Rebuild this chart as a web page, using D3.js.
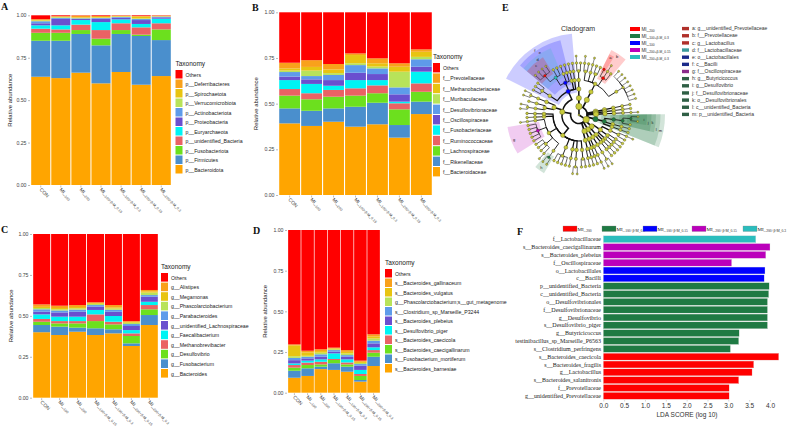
<!DOCTYPE html>
<html>
<head>
<meta charset="utf-8">
<script src="https://cdn.jsdelivr.net/npm/d3@7"></script>
<style>
  body { margin: 0; background: #fff; }
  svg { display: block; font-family: "Liberation Sans", Arial, sans-serif; }
</style>
</head>
<body>
<svg id="fig" width="791" height="432"></svg>
<script>
// ---- data ----
const groups = ["CON", "MI_100", "MI_200", "MI_100+β-M_0.15", "MI_100+β-M_0.3", "MI_200+β-M_0.15", "MI_200+β-M_0.3"];

// stacking order bottom -> top, "Others" is the remainder up to 1
const phylumTaxa = ["p__Bacteroidota", "p__Firmicutes", "p__Fusobacteriota", "p__unidentified_Bacteria", "p__Euryarchaeota",
  "p__Proteobacteria", "p__Actinobacteriota", "p__Verrucomicrobiota", "p__Spirochaetota", "p__Deferribacteres"];
const phylumValues = [
  [0.638, 0.212, 0.047, 0.024, 0.020, 0.012, 0.012, 0.004, 0.004, 0.004],
  [0.630, 0.220, 0.047, 0.020, 0.024, 0.038, 0.006, 0.004, 0.003, 0.003],
  [0.662, 0.228, 0.023, 0.032, 0.027, 0.006, 0.004, 0.003, 0.003, 0.010],
  [0.599, 0.224, 0.039, 0.051, 0.047, 0.020, 0.004, 0.003, 0.003, 0.006],
  [0.666, 0.224, 0.023, 0.040, 0.023, 0.010, 0.004, 0.003, 0.003, 0.002],
  [0.591, 0.287, 0.008, 0.043, 0.020, 0.023, 0.006, 0.004, 0.010, 0.004],
  [0.642, 0.212, 0.063, 0.036, 0.027, 0.008, 0.004, 0.002, 0.002, 0.002]
];

const familyTaxa = ["f__Bacteroidaceae", "f__Rikenellaceae", "f__Lachnospiraceae", "f__Ruminococcaceae", "f__Fusobacteriaceae",
  "f__Oscillospiraceae", "f__Desulfovibrionaceae", "f__Muribaculaceae", "f__Methanobacteriaceae", "f__Prevotellaceae"];
const familyValues = [
  [0.392, 0.082, 0.070, 0.036, 0.049, 0.019, 0.025, 0.008, 0.012, 0.031],
  [0.378, 0.083, 0.063, 0.033, 0.051, 0.025, 0.018, 0.030, 0.020, 0.037],
  [0.401, 0.073, 0.064, 0.037, 0.023, 0.031, 0.028, 0.010, 0.020, 0.030],
  [0.374, 0.109, 0.061, 0.040, 0.045, 0.040, 0.042, 0.010, 0.045, 0.009],
  [0.387, 0.118, 0.052, 0.043, 0.029, 0.033, 0.031, 0.010, 0.018, 0.027],
  [0.314, 0.069, 0.086, 0.033, 0.009, 0.040, 0.038, 0.086, 0.027, 0.019],
  [0.443, 0.068, 0.054, 0.046, 0.064, 0.027, 0.041, 0.013, 0.028, 0.013]
];

const genusTaxa = ["g__Bacteroides", "g__Fusobacterium", "g__Desulfovibrio", "g__Methanobrevibacter", "g__Faecalibacterium",
  "g__unidentified_Lachnospiraceae", "g__Parabacteroides", "g__Phascolarctobacterium", "g__Megamonas", "g__Alistipes"];
const genusValues = [
  [0.400, 0.044, 0.020, 0.017, 0.028, 0.016, 0.015, 0.008, 0.007, 0.015],
  [0.383, 0.051, 0.020, 0.014, 0.027, 0.026, 0.012, 0.007, 0.008, 0.014],
  [0.403, 0.025, 0.026, 0.014, 0.027, 0.030, 0.013, 0.008, 0.008, 0.012],
  [0.383, 0.041, 0.044, 0.041, 0.027, 0.020, 0.010, 0.007, 0.005, 0.005],
  [0.393, 0.025, 0.030, 0.016, 0.035, 0.026, 0.012, 0.008, 0.007, 0.014],
  [0.316, 0.016, 0.045, 0.016, 0.020, 0.025, 0.012, 0.008, 0.005, 0.005],
  [0.444, 0.061, 0.035, 0.026, 0.020, 0.031, 0.010, 0.015, 0.008, 0.008]
];

const speciesTaxa = ["s__Bacteroides_barnesiae", "s__Fusobacterium_mortiferum", "s__Bacteroides_caecigallinarum", "s__Bacteroides_caecicola",
  "s__Desulfovibrio_piger", "s__Bacteroides_plebeius", "s__Clostridium_sp_Marseille_P3244", "g__Phascolarctobacterium;s__gut_metagenome",
  "s__Bacteroides_vulgatus", "s__Bacteroides_gallinaceum"];
const speciesValues = [
  [0.092, 0.043, 0.019, 0.016, 0.010, 0.020, 0.014, 0.010, 0.067, 0.006],
  [0.103, 0.047, 0.020, 0.015, 0.012, 0.014, 0.010, 0.006, 0.021, 0.010],
  [0.145, 0.015, 0.014, 0.016, 0.015, 0.016, 0.015, 0.010, 0.010, 0.011],
  [0.140, 0.041, 0.020, 0.006, 0.035, 0.010, 0.010, 0.005, 0.005, 0.005],
  [0.129, 0.031, 0.014, 0.012, 0.019, 0.016, 0.010, 0.010, 0.010, 0.011],
  [0.068, 0.010, 0.025, 0.012, 0.025, 0.026, 0.010, 0.007, 0.007, 0.007],
  [0.164, 0.057, 0.025, 0.016, 0.017, 0.024, 0.017, 0.013, 0.012, 0.014]
];

const abundanceTicks = [0, 0.25, 0.5, 0.75, 1];

// LEfSe groups
const cladeGroups = ["MI_200", "MI_100+β-M_0.3", "MI_100", "MI_200+β-M_0.15", "MI_200+β-M_0.3"];
const ldaGroups = ["MI_200", "MI_100+β-M_0.3", "MI_100+β-M_0.15", "MI_200+β-M_0.15", "MI_200+β-M_0.3"];

// cladogram taxonomy, leaf order = clockwise
const cladeLineages = [
  "k__Bacteria|p__Bacteroidota|c__Bacteroidia|o__Bacteroidales|f__Rikenellaceae|g__Alistipes|s__Alistipes_sp",
  "k__Bacteria|p__Bacteroidota|c__Bacteroidia|o__Bacteroidales|f__Rikenellaceae|g__Rikenella",
  "k__Bacteria|p__Bacteroidota|c__Bacteroidia|o__Bacteroidales|f__Tannerellaceae|g__Parabacteroides|s__Parabacteroides_distasonis",
  "k__Bacteria|p__Bacteroidota|c__Bacteroidia|o__Bacteroidales|f__Muribaculaceae|g__unidentified_Muribaculaceae",
  "k__Bacteria|p__Bacteroidota|c__Bacteroidia|o__Bacteroidales|f__Muribaculaceae|g__Muribaculum",
  "k__Bacteria|p__Bacteroidota|c__Bacteroidia|o__Bacteroidales|f__Prevotellaceae|g__unidentified_Prevotellaceae",
  "k__Bacteria|p__Bacteroidota|c__Bacteroidia|o__Bacteroidales|f__Prevotellaceae|g__Prevotella|s__Prevotella_copri",
  "k__Bacteria|p__Bacteroidota|c__Bacteroidia|o__Bacteroidales|f__Prevotellaceae|g__Alloprevotella",
  "k__Bacteria|p__Bacteroidota|c__Bacteroidia|o__Bacteroidales|f__Bacteroidaceae|g__Bacteroides|s__Bacteroides_barnesiae",
  "k__Bacteria|p__Bacteroidota|c__Bacteroidia|o__Bacteroidales|f__Bacteroidaceae|g__Bacteroides|s__Bacteroides_caecicola",
  "k__Bacteria|p__Bacteroidota|c__Bacteroidia|o__Bacteroidales|f__Bacteroidaceae|g__Bacteroides|s__Bacteroides_caecigallinarum",
  "k__Bacteria|p__Bacteroidota|c__Bacteroidia|o__Bacteroidales|f__Bacteroidaceae|g__Bacteroides|s__Bacteroides_plebeius",
  "k__Bacteria|p__Bacteroidota|c__Bacteroidia|o__Bacteroidales|f__Bacteroidaceae|g__Bacteroides|s__Bacteroides_vulgatus",
  "k__Bacteria|p__Bacteroidota|c__Bacteroidia|o__Bacteroidales|f__Bacteroidaceae|g__Bacteroides|s__Bacteroides_fragilis",
  "k__Bacteria|p__Bacteroidota|c__Bacteroidia|o__Bacteroidales|f__Bacteroidaceae|g__Bacteroides|s__Bacteroides_salanitronis",
  "k__Bacteria|p__Bacteroidota|c__Bacteroidia|o__Bacteroidales|f__Bacteroidaceae|g__Bacteroides|s__Bacteroides_gallinaceum",
  "k__Bacteria|p__Spirochaetota|c__Spirochaetia|o__Spirochaetales|f__Spirochaetaceae|g__Treponema",
  "k__Bacteria|p__Deferribacteres|c__Deferribacteres|o__Deferribacterales|f__Deferribacteraceae|g__Mucispirillum",
  "k__Bacteria|p__Verrucomicrobiota|c__Verrucomicrobiae|o__Verrucomicrobiales|f__Akkermansiaceae|g__Akkermansia|s__Akkermansia_muciniphila",
  "k__Bacteria|p__unidentified_Bacteria|c__unidentified_Bacteria|o__Desulfovibrionales|f__Desulfovibrionaceae|g__Desulfovibrio|s__Desulfovibrio_piger",
  "k__Bacteria|p__unidentified_Bacteria|c__unidentified_Bacteria|o__Desulfovibrionales|f__Desulfovibrionaceae|g__Desulfovibrio|s__Desulfovibrio_desulfuricans",
  "k__Bacteria|p__unidentified_Bacteria|c__unidentified_Bacteria|o__Desulfovibrionales|f__Desulfovibrionaceae|g__Bilophila",
  "k__Bacteria|p__unidentified_Bacteria|c__unidentified_Bacteria|o__Campylobacterales|f__Helicobacteraceae|g__Helicobacter",
  "k__Bacteria|p__unidentified_Bacteria|c__unidentified_Bacteria|o__unidentified_Bacteria|f__unidentified_Bacteria|g__unidentified_Bacteria",
  "k__Bacteria|p__Proteobacteria|c__Gammaproteobacteria|o__Enterobacterales|f__Enterobacteriaceae|g__Escherichia-Shigella|s__Escherichia_coli",
  "k__Bacteria|p__Proteobacteria|c__Gammaproteobacteria|o__Enterobacterales|f__Enterobacteriaceae|g__Klebsiella",
  "k__Bacteria|p__Proteobacteria|c__Gammaproteobacteria|o__Pseudomonadales|f__Pseudomonadaceae|g__Pseudomonas",
  "k__Bacteria|p__Proteobacteria|c__Gammaproteobacteria|o__Pseudomonadales|f__Moraxellaceae|g__Acinetobacter",
  "k__Bacteria|p__Proteobacteria|c__Gammaproteobacteria|o__Burkholderiales|f__Sutterellaceae|g__Parasutterella",
  "k__Bacteria|p__Proteobacteria|c__Alphaproteobacteria|o__Rhizobiales|f__Rhizobiaceae|g__unidentified_Rhizobiaceae",
  "k__Bacteria|p__Proteobacteria|c__Alphaproteobacteria|o__Sphingomonadales|f__Sphingomonadaceae|g__Sphingomonas",
  "k__Bacteria|p__Fusobacteriota|c__Fusobacteriia|o__Fusobacteriales|f__Fusobacteriaceae|g__Fusobacterium|s__Fusobacterium_mortiferum",
  "k__Bacteria|p__Fusobacteriota|c__Fusobacteriia|o__Fusobacteriales|f__Fusobacteriaceae|g__Fusobacterium|s__Fusobacterium_varium",
  "k__Bacteria|p__Actinobacteriota|c__Actinobacteria|o__Bifidobacteriales|f__Bifidobacteriaceae|g__Bifidobacterium|s__Bifidobacterium_pseudolongum",
  "k__Bacteria|p__Actinobacteriota|c__Actinobacteria|o__Corynebacteriales|f__Corynebacteriaceae|g__Corynebacterium",
  "k__Bacteria|p__Actinobacteriota|c__Coriobacteriia|o__Coriobacteriales|f__Eggerthellaceae|g__Gordonibacter",
  "k__Bacteria|p__Actinobacteriota|c__Coriobacteriia|o__Coriobacteriales|f__Atopobiaceae|g__Olsenella",
  "k__Bacteria|p__Firmicutes|c__Clostridia|o__Peptostreptococcales|f__Peptostreptococcaceae|g__Romboutsia",
  "k__Bacteria|p__Firmicutes|c__Clostridia|o__Peptostreptococcales|f__Peptostreptococcaceae|g__Terrisporobacter",
  "k__Bacteria|p__Firmicutes|c__Clostridia|o__Clostridiales|f__Clostridiaceae|g__Clostridium_sensu_stricto_1|s__Clostridium_perfringens",
  "k__Bacteria|p__Firmicutes|c__Clostridia|o__Clostridiales|f__Clostridiaceae|g__Clostridium_sensu_stricto_1|s__Clostridium_sp_Marseille_P3244",
  "k__Bacteria|p__Firmicutes|c__Clostridia|o__Christensenellales|f__Christensenellaceae|g__Christensenellaceae_R-7_group",
  "k__Bacteria|p__Firmicutes|c__Clostridia|o__Lachnospirales|f__Lachnospiraceae|g__unidentified_Lachnospiraceae",
  "k__Bacteria|p__Firmicutes|c__Clostridia|o__Lachnospirales|f__Lachnospiraceae|g__Blautia",
  "k__Bacteria|p__Firmicutes|c__Clostridia|o__Lachnospirales|f__Lachnospiraceae|g__Lachnoclostridium",
  "k__Bacteria|p__Firmicutes|c__Clostridia|o__Lachnospirales|f__Lachnospiraceae|g__Sellimonas",
  "k__Bacteria|p__Firmicutes|c__Clostridia|o__Oscillospirales|f__Butyricicoccaceae|g__Butyricicoccus|s__Butyricicoccus_pullicaecorum",
  "k__Bacteria|p__Firmicutes|c__Clostridia|o__Oscillospirales|f__Butyricicoccaceae|g__Butyricicoccus|s__unidentified_Butyricicoccus",
  "k__Bacteria|p__Firmicutes|c__Clostridia|o__Oscillospirales|f__Ruminococcaceae|g__Faecalibacterium|s__Faecalibacterium_prausnitzii",
  "k__Bacteria|p__Firmicutes|c__Clostridia|o__Oscillospirales|f__Ruminococcaceae|g__Negativibacillus",
  "k__Bacteria|p__Firmicutes|c__Clostridia|o__Oscillospirales|f__Ruminococcaceae|g__Ruminococcus",
  "k__Bacteria|p__Firmicutes|c__Clostridia|o__Oscillospirales|f__Ruminococcaceae|g__Subdoligranulum",
  "k__Bacteria|p__Firmicutes|c__Clostridia|o__Oscillospirales|f__Oscillospiraceae|g__Oscillibacter",
  "k__Bacteria|p__Firmicutes|c__Clostridia|o__Oscillospirales|f__Oscillospiraceae|g__Colidextribacter",
  "k__Bacteria|p__Firmicutes|c__Clostridia|o__Oscillospirales|f__Oscillospiraceae|g__Intestinimonas",
  "k__Bacteria|p__Firmicutes|c__Clostridia|o__Oscillospirales|f__Oscillospiraceae|g__Flavonifractor",
  "k__Bacteria|p__Firmicutes|c__Clostridia|o__Oscillospirales|f__Oscillospiraceae|g__Oscillospira",
  "k__Bacteria|p__Firmicutes|c__Clostridia|o__Oscillospirales|f__unidentified_Oscillospirales|g__Intestinibacillus|s__Intestinibacillus_sp_Marseille_P6563",
  "k__Bacteria|p__Firmicutes|c__Clostridia|o__Peptococcales|f__Peptococcaceae|g__unidentified_Peptococcaceae",
  "k__Bacteria|p__Firmicutes|c__Clostridia|o__Clostridia_vadinBB60_group|f__unidentified_Clostridia|g__unidentified_Clostridia",
  "k__Bacteria|p__Firmicutes|c__Negativicutes|o__Veillonellales-Selenomonadales|f__Selenomonadaceae|g__Megamonas|s__Megamonas_hypermegale",
  "k__Bacteria|p__Firmicutes|c__Negativicutes|o__Veillonellales-Selenomonadales|f__Selenomonadaceae|g__Megamonas|s__Megamonas_funiformis",
  "k__Bacteria|p__Firmicutes|c__Negativicutes|o__Veillonellales-Selenomonadales|f__Veillonellaceae|g__Veillonella",
  "k__Bacteria|p__Firmicutes|c__Negativicutes|o__Acidaminococcales|f__Acidaminococcaceae|g__Phascolarctobacterium|s__gut_metagenome",
  "k__Bacteria|p__Firmicutes|c__Negativicutes|o__Acidaminococcales|f__Acidaminococcaceae|g__Phascolarctobacterium|s__Phascolarctobacterium_faecium",
  "k__Bacteria|p__Firmicutes|c__Bacilli|o__Erysipelotrichales|f__Erysipelotrichaceae|g__Faecalitalea",
  "k__Bacteria|p__Firmicutes|c__Bacilli|o__Erysipelotrichales|f__Erysipelotrichaceae|g__Turicibacter",
  "k__Bacteria|p__Firmicutes|c__Bacilli|o__Erysipelotrichales|f__Erysipelotrichaceae|g__Erysipelatoclostridium",
  "k__Bacteria|p__Firmicutes|c__Bacilli|o__Lactobacillales|f__Lactobacillaceae|g__Lactobacillus|s__Lactobacillus_aviarius",
  "k__Bacteria|p__Firmicutes|c__Bacilli|o__Lactobacillales|f__Lactobacillaceae|g__Lactobacillus|s__Lactobacillus_salivarius",
  "k__Bacteria|p__Firmicutes|c__Bacilli|o__Lactobacillales|f__Lactobacillaceae|g__Lactobacillus|s__Lactobacillus_johnsonii",
  "k__Bacteria|p__Firmicutes|c__Bacilli|o__Lactobacillales|f__Lactobacillaceae|g__Lactobacillus|s__Lactobacillus_reuteri",
  "k__Bacteria|p__Firmicutes|c__Bacilli|o__Lactobacillales|f__Lactobacillaceae|g__Ligilactobacillus",
  "k__Bacteria|p__Firmicutes|c__Bacilli|o__Lactobacillales|f__Lactobacillaceae|g__Limosilactobacillus",
  "k__Bacteria|p__Firmicutes|c__Bacilli|o__Lactobacillales|f__Streptococcaceae|g__Streptococcus",
  "k__Bacteria|p__Firmicutes|c__Bacilli|o__Lactobacillales|f__Enterococcaceae|g__Enterococcus",
  "k__Bacteria|p__Firmicutes|c__Bacilli|o__Staphylococcales|f__Staphylococcaceae|g__Staphylococcus",
  "k__Bacteria|p__Firmicutes|c__Bacilli|o__RF39|f__unidentified_RF39|g__unidentified_RF39",
  "k__Archaea|p__Euryarchaeota|c__Methanobacteria|o__Methanobacteriales|f__Methanobacteriaceae|g__Methanobrevibacter|s__Methanobrevibacter_woesei",
  "k__Archaea|p__Euryarchaeota|c__Methanobacteria|o__Methanobacteriales|f__Methanobacteriaceae|g__Methanosphaera"
];

// highlighted clades (letter legend)
const cladeMarks = ["g__unidentified_Prevotellaceae", "f__Prevotellaceae", "g__Lactobacillus", "f__Lactobacillaceae",
  "o__Lactobacillales", "c__Bacilli", "f__Oscillospiraceae", "g__Butyricicoccus", "g__Desulfovibrio",
  "f__Desulfovibrionaceae", "o__Desulfovibrionales", "c__unidentified_Bacteria", "p__unidentified_Bacteria"];
const cladeMarkGroup = [0, 0, 0, 4, 2, 2, 3, 1, 1, 1, 1, 1, 1];
const cladeLetters = ["a", "b", "c", "d", "e", "f", "g", "h", "i", "j", "k", "l", "m"];

// LDA scores, top -> bottom
const ldaLabels = ["f__Lactobacillaceae", "s__Bacteroides_caecigallinarum", "s__Bacteroides_plebeius", "f__Oscillospiraceae",
  "o__Lactobacillales", "c__Bacilli", "p__unidentified_Bacteria", "c__unidentified_Bacteria", "o__Desulfovibrionales",
  "f__Desulfovibrionaceae", "g__Desulfovibrio", "s__Desulfovibrio_piger", "g__Butyricicoccus",
  "testinibacillus_sp_Marseille_P6563", "s__Clostridium_perfringens", "s__Bacteroides_caecicola", "s__Bacteroides_fragilis",
  "g__Lactobacillus", "s__Bacteroides_salanitronis", "f__Prevotellaceae", "g__unidentified_Prevotellaceae"];
const ldaScores = [3.66, 4.00, 3.90, 3.08, 3.88, 3.86, 3.98, 3.97, 3.94, 3.94, 3.94, 3.94, 3.26, 3.25, 3.05,
  4.21, 3.61, 3.57, 3.25, 3.02, 3.02];
const ldaGroupIdx = [4, 3, 3, 3, 2, 2, 1, 1, 1, 1, 1, 1, 1, 1, 1, 0, 0, 0, 0, 0, 0];
const ldaTicks = [0, 0.5, 1.0, 1.5, 2.0, 2.5, 3.0, 3.5, 4.0];

// ---- styles ----
const stackColors = ["#FFA500", "#4A8FCD", "#6CE01E", "#EA6264", "#00F4F4", "#6A4FCF", "#5E9BEA", "#B8E35A", "#E8C411", "#F9A11B"];
const othersColor = "#FF0000";
const groupColors = ["#FF0000", "#1F7A43", "#0000FF", "#BB00BB", "#2BBDBD"];
const letterColors = ["#B0302A", "#2F5F45", "#1A2A8A", "#8A2A8A", "#3A9A9A"];

const svg = d3.select("#fig");

function writeGroup(t, name, fs) {
  const i = name.indexOf("_");
  if (i < 0) { t.text(name); return; }
  t.append("tspan").text(name.slice(0, i + 1));
  t.append("tspan").attr("font-size", fs * 0.72).attr("dy", fs * 0.28).text(name.slice(i + 1));
}

function panelLetter(txt, x, y) {
  svg.append("text").attr("x", x).attr("y", y).text(txt)
    .attr("font-family", "'Liberation Serif', 'DejaVu Serif', serif")
    .attr("font-weight", "bold").attr("font-size", 10).attr("fill", "#111");
}

// ---- stacked bar panels ----
function drawStack(cfg) {
  const g = svg.append("g");
  const x = d3.scaleBand().domain(groups).range([cfg.x0, cfg.x1]).paddingInner(0.05).paddingOuter(0.01);
  const y = d3.scaleLinear().domain([0, 1]).range([cfg.yBot, cfg.yTop]);
  const keys = cfg.taxa.concat(["Others"]);
  const rows = groups.map((grp, i) => {
    const r = { group: grp };
    cfg.taxa.forEach((t, j) => r[t] = cfg.values[i][j]);
    r.Others = Math.max(0, 1 - d3.sum(cfg.values[i]));
    return r;
  });
  const series = d3.stack().keys(keys)(rows);

  g.selectAll("g.layer").data(series).join("g")
    .attr("class", "layer")
    .attr("fill", (d, i) => i < cfg.taxa.length ? stackColors[i] : othersColor)
    .selectAll("rect").data(d => d).join("rect")
    .attr("x", d => x(d.data.group))
    .attr("width", x.bandwidth())
    .attr("y", d => y(d[1]))
    .attr("height", d => Math.max(0, y(d[0]) - y(d[1])));

  const ya = g.append("g").attr("transform", `translate(${cfg.x0 - 1},0)`)
    .call(d3.axisLeft(y).tickValues(abundanceTicks).tickFormat(d3.format(".2f")).tickSize(2).tickPadding(1.5));
  ya.select(".domain").remove();
  ya.selectAll("line").attr("stroke", "#777").attr("stroke-width", 0.5);
  ya.selectAll("text").attr("font-size", 5.2).attr("fill", "#444");

  const xa = g.append("g").attr("transform", `translate(0,${cfg.yBot + 0.5})`)
    .call(d3.axisBottom(x).tickSize(2).tickFormat(""));
  xa.select(".domain").remove();
  xa.selectAll("line").attr("stroke", "#777").attr("stroke-width", 0.5);
  xa.selectAll(".tick text").each(function (d) { writeGroup(d3.select(this), d, 5); })
    .attr("font-size", 5).attr("fill", "#444")
    .attr("text-anchor", "start")
    .attr("transform", "rotate(45)")
    .attr("x", 2).attr("y", 2.5).attr("dy", "0.35em");

  g.append("text")
    .attr("transform", `translate(${cfg.titleX},${(cfg.yTop + cfg.yBot) / 2}) rotate(-90)`)
    .attr("text-anchor", "middle").attr("font-size", 6).attr("fill", "#222")
    .text("Relative abundance");

  // legend
  const legItems = ["Others"].concat(cfg.taxa.slice().reverse());
  const legCols = [othersColor].concat(stackColors.slice().reverse());
  const lg = g.append("g").attr("transform", `translate(${cfg.legX},${cfg.legY})`);
  lg.append("text").attr("x", 0).attr("y", -4).attr("font-size", 6.5).attr("fill", "#222").text("Taxonomy");
  legItems.forEach((name, i) => {
    lg.append("rect").attr("x", 0).attr("y", i * cfg.legStep).attr("width", 7).attr("height", cfg.legStep - 1)
      .attr("fill", legCols[i]);
    lg.append("text").attr("x", 10).attr("y", i * cfg.legStep + cfg.legStep / 2).attr("dy", "0.35em")
      .attr("font-size", 5.2).attr("fill", "#222").text(name);
  });
}

drawStack({ taxa: phylumTaxa, values: phylumValues, x0: 31, x1: 171, yTop: 15.3, yBot: 185,
  titleX: 12, legX: 175.5, legY: 70, legStep: 9.5 });
drawStack({ taxa: familyTaxa, values: familyValues, x0: 279, x1: 432, yTop: 12.3, yBot: 195,
  titleX: 258, legX: 433, legY: 63, legStep: 10.4 });
drawStack({ taxa: genusTaxa, values: genusValues, x0: 33, x1: 158, yTop: 234, yBot: 397.7,
  titleX: 13, legX: 161, legY: 273, legStep: 9.6 });
drawStack({ taxa: speciesTaxa, values: speciesValues, x0: 288, x1: 380, yTop: 230, yBot: 392.7,
  titleX: 267, legX: 385, legY: 269, legStep: 9.5 });

panelLetter("A", 1, 10);
panelLetter("B", 252, 11);
panelLetter("C", 1, 233);
panelLetter("D", 253, 234);
panelLetter("E", 502, 11);
panelLetter("F", 517, 235);

// ---- cladogram ----
(function drawCladogram() {
  const cx = 579, cy = 115;
  const radii = [0, 8.5, 17, 26, 35, 44, 52, 59];
  const rot = 4;
  const nodeR = [1.0, 3.2, 2.6, 2.2, 1.9, 1.6, 1.3, 1.05];
  const linkW = [1.6, 1.7, 1.5, 1.2, 0.9, 0.65, 0.5];

  const nodesData = [{ id: "root", parentId: null, name: "root" }];
  const seen = new Set();
  cladeLineages.forEach(l => {
    let path = "root";
    l.split("|").forEach(p => {
      const id = path + "|" + p;
      if (!seen.has(id)) { seen.add(id); nodesData.push({ id: id, parentId: path, name: p }); }
      path = id;
    });
  });
  const root = d3.stratify()(nodesData);
  d3.cluster().size([360, 1]).separation(() => 1)(root);
  const step = 360 / root.leaves().length;

  const ang = d => d.x + rot;
  const rad = d => radii[d.depth];
  const pt = (a, r) => [cx + r * Math.sin(a * Math.PI / 180), cy - r * Math.cos(a * Math.PI / 180)];

  const g = svg.append("g");

  // shaded sectors
  const marks = cladeMarks.map((name, i) => {
    const node = root.descendants().find(d => d.data.name === name);
    return { node: node, group: cladeMarkGroup[i], letter: cladeLetters[i] };
  }).filter(m => m.node).sort((a, b) => a.node.depth - b.node.depth);

  const arc = d3.arc();
  marks.forEach(m => {
    const lv = m.node.leaves();
    const a0 = d3.min(lv, ang) - step / 2, a1 = d3.max(lv, ang) + step / 2;
    const inner = rad(m.node) - 3.5, outer = 59 + (8 - m.node.depth) * 4.5;
    m.outer = outer; m.mid = (a0 + a1) / 2;
    g.append("path")
      .attr("transform", `translate(${cx},${cy})`)
      .attr("d", arc({ innerRadius: inner, outerRadius: outer, startAngle: a0 * Math.PI / 180, endAngle: a1 * Math.PI / 180 }))
      .attr("fill", groupColors[m.group]).attr("fill-opacity", 0.2);
  });

  // links: arc along parent ring then radial line
  g.selectAll("path.link").data(root.descendants().slice(1)).join("path")
    .attr("class", "link")
    .attr("fill", "none").attr("stroke", "#111")
    .attr("stroke-width", d => linkW[d.parent.depth])
    .attr("d", d => {
      const p = d.parent, rp = rad(p);
      const ap = ang(p), ac = ang(d);
      const s = pt(ap, rp), e = pt(ac, rp), f = pt(ac, rad(d));
      if (rp === 0) return `M${cx},${cy}L${f[0]},${f[1]}`;
      const sweep = ac > ap ? 1 : 0;
      const large = Math.abs(ac - ap) > 180 ? 1 : 0;
      return `M${s[0]},${s[1]}A${rp},${rp} 0 ${large} ${sweep} ${e[0]},${e[1]}L${f[0]},${f[1]}`;
    });

  const markedColor = new Map(marks.map(m => [m.node, groupColors[m.group]]));
  g.selectAll("circle.node").data(root.descendants()).join("circle")
    .attr("class", "node")
    .attr("cx", d => pt(ang(d), rad(d))[0])
    .attr("cy", d => pt(ang(d), rad(d))[1])
    .attr("r", d => nodeR[d.depth])
    .attr("fill", d => markedColor.get(d) || "#C8CB3A")
    .attr("stroke", "#3a3a1a").attr("stroke-width", 0.35);

  marks.forEach(m => {
    const p = pt(m.mid, m.outer - 3);
    g.append("text").attr("x", p[0]).attr("y", p[1]).attr("dy", "0.35em")
      .attr("text-anchor", "middle").attr("font-size", 4).attr("fill", "#222").text(m.letter);
  });

  svg.append("text").attr("x", 578).attr("y", 31).attr("text-anchor", "middle")
    .attr("font-size", 7).attr("fill", "#333").text("Cladogram");

  // group legend
  cladeGroups.forEach((name, i) => {
    const yy = 29 + i * 7;
    svg.append("rect").attr("x", 630).attr("y", yy - 2).attr("width", 10).attr("height", 4).attr("fill", groupColors[i]);
    const t = svg.append("text").attr("x", 641.5).attr("y", yy).attr("dy", "0.35em")
      .attr("font-size", 4.6).attr("fill", "#333");
    writeGroup(t, name, 4.6);
  });

  // letter legend
  cladeMarks.forEach((name, i) => {
    const yy = 28.5 + i * 7.15;
    svg.append("rect").attr("x", 682).attr("y", yy - 1.6).attr("width", 7).attr("height", 3.4)
      .attr("fill", letterColors[cladeMarkGroup[i]]);
    svg.append("text").attr("x", 692).attr("y", yy).attr("dy", "0.35em")
      .attr("font-size", 5).attr("fill", "#333").text(cladeLetters[i] + ": " + name);
  });
})();

// ---- LDA bar chart ----
(function drawLDA() {
  const g = svg.append("g");
  const y = d3.scaleBand().domain(ldaLabels).range([235.5, 399.5]).paddingInner(0.12).paddingOuter(0.03);
  const x = d3.scaleLinear().domain([0, 4]).range([603.3, 770]);

  g.selectAll("rect.bar").data(ldaLabels).join("rect")
    .attr("class", "bar")
    .attr("x", x(0))
    .attr("y", d => y(d))
    .attr("width", (d, i) => x(ldaScores[i]) - x(0))
    .attr("height", y.bandwidth())
    .attr("fill", (d, i) => groupColors[ldaGroupIdx[i]])
    .attr("stroke", "#e4e4e4").attr("stroke-width", 0.3);

  g.selectAll("text.lab").data(ldaLabels).join("text")
    .attr("class", "lab")
    .attr("x", 601).attr("y", d => y(d) + y.bandwidth() / 2).attr("dy", "0.35em")
    .attr("text-anchor", "end")
    .attr("font-family", "'Liberation Serif', 'DejaVu Serif', serif")
    .attr("font-size", 6).attr("fill", "#222")
    .text(d => d);

  const xa = g.append("g").attr("transform", "translate(0,400)")
    .call(d3.axisBottom(x).tickValues(ldaTicks).tickFormat(d3.format(".1f")).tickSize(1.5).tickPadding(1.5));
  xa.select(".domain").remove();
  xa.selectAll("line").attr("stroke", "#999").attr("stroke-width", 0.4);
  xa.selectAll("text").attr("font-size", 6.5).attr("fill", "#333");

  g.append("text").attr("x", 687).attr("y", 417).attr("text-anchor", "middle")
    .attr("font-size", 6.5).attr("fill", "#333").text("LDA SCORE (log 10)");

  // legend row
  const legXs = [563, 602, 643, 692, 743];
  ldaGroups.forEach((name, i) => {
    const t = g.append("text").attr("x", legXs[i] + 14.5).attr("y", 229).attr("dy", "0.35em")
      .attr("font-family", "'Liberation Serif', 'DejaVu Serif', serif")
      .attr("font-size", 5).attr("fill", "#222");
    writeGroup(t, name, 5);
  });
  ldaGroups.forEach((name, i) => {
    g.append("rect").attr("x", legXs[i]).attr("y", 226).attr("width", 14).attr("height", 5.5)
      .attr("fill", groupColors[i]).attr("stroke", "#888").attr("stroke-width", 0.3);
  });
})();
</script>
</body>
</html>
